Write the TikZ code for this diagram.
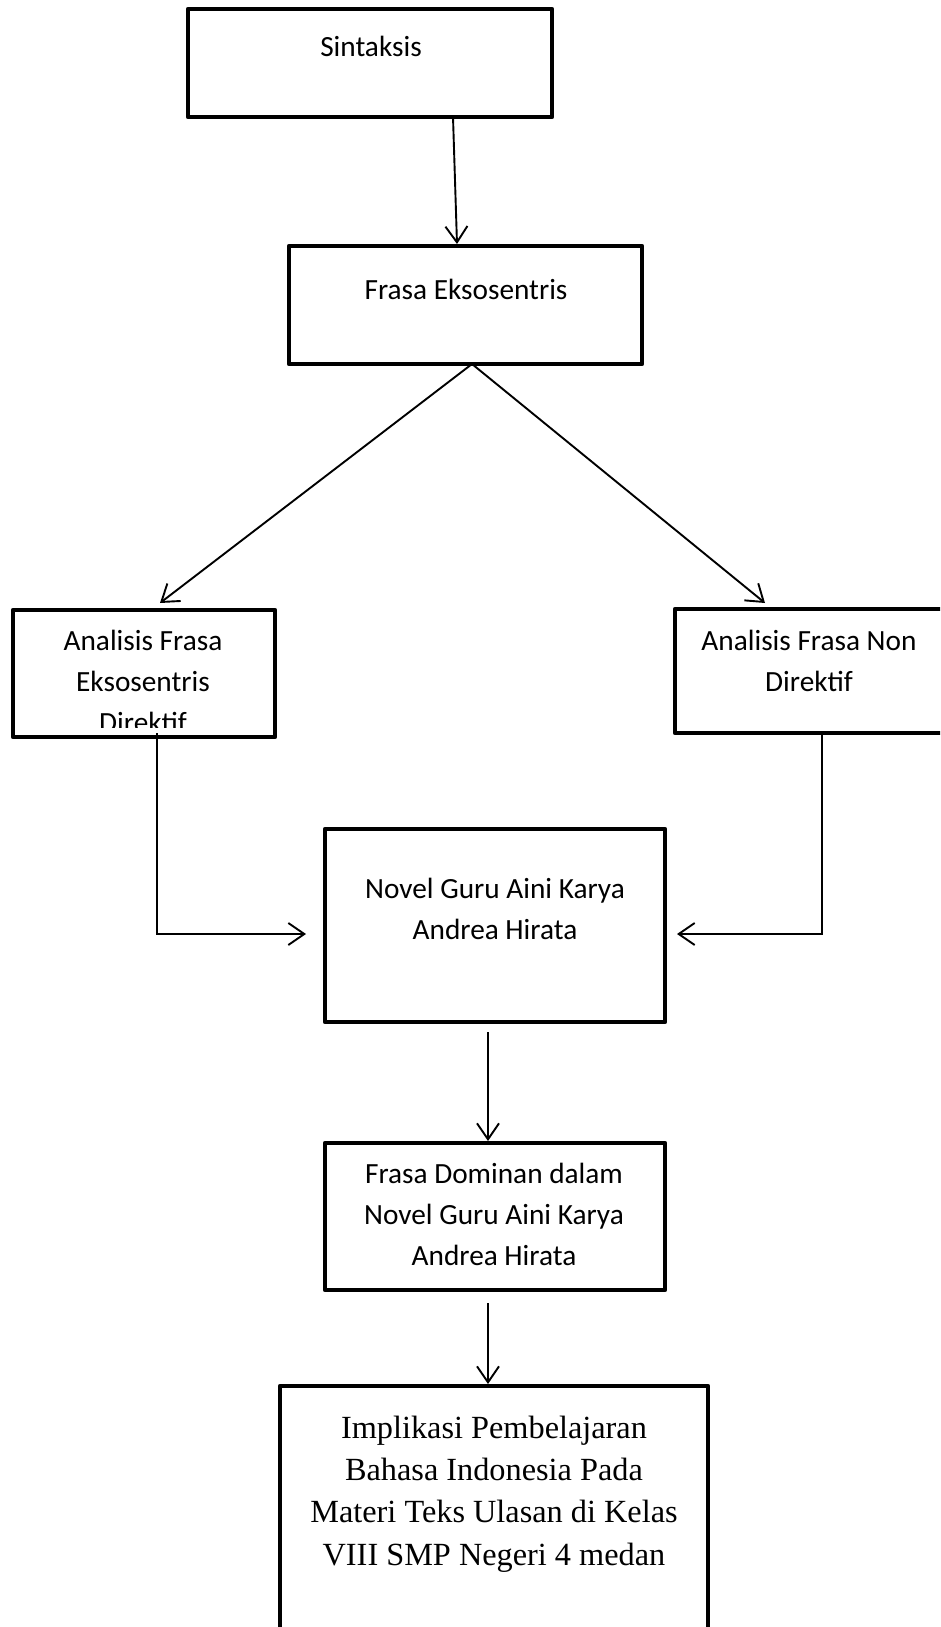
\documentclass[tikz,border=0pt]{standalone}
\usepackage{fontspec}
\setmainfont{Carlito}
\newfontfamily\timesf{Liberation Serif}
\usetikzlibrary{arrows.meta}
\begin{document}
\begin{tikzpicture}[x=1pt,y=-1pt,
  box/.style={draw=black, line width=4.8pt, line join=round, rectangle, inner sep=0pt, outer sep=0pt},
  conn/.style={draw=black, line width=1.9pt, -{Straight Barb[length=16pt,width=22pt]}},
  lbl/.style={anchor=base, inner sep=0pt, font=\fontsize{29.3}{41.3}\selectfont},
  lblt/.style={anchor=base, inner sep=0pt, font=\timesf\fontsize{32.3}{42.4}\selectfont}]
\useasboundingbox (0,0) rectangle (940,1627);
\fill[white] (0,0) rectangle (940,1627);
\clip (0,0) rectangle (940,1627);

% boxes
\node[box, minimum width=364pt, minimum height=108pt] (sin) at (370,63) {};
\node[box, minimum width=353pt, minimum height=118pt] (fe) at (465.5,305) {};
\node[box, minimum width=262pt, minimum height=127pt] (aed) at (144,673.5) {};
\node[box, minimum width=268pt, minimum height=124pt] (afn) at (809,671) {};
\node[box, minimum width=340pt, minimum height=193pt] (novel) at (495,925.5) {};
\node[box, minimum width=340pt, minimum height=147pt] (dom) at (495,1216.5) {};
\node[box, minimum width=428pt, minimum height=244pt] (impl) at (494,1508) {};

% texts
\node[lbl] (sinT) at (371,57) {Sintaksis};
\node[lbl] (feT) at (466,299) {Frasa Eksosentris};
\begin{scope}
\clip (13,610) rectangle (275,727);
\node[lbl] (aedT) at (143,650) {\begin{tabular}[t]{@{}c@{}}Analisis Frasa\\Eksosentris\\Direktif\end{tabular}};
\end{scope}
\node[lbl] (afnT) at (809,650) {\begin{tabular}[t]{@{}c@{}}Analisis Frasa Non\\Direktif\end{tabular}};
\node[lbl] (novelT) at (495,898) {\begin{tabular}[t]{@{}c@{}}Novel Guru Aini Karya\\Andrea Hirata\end{tabular}};
\node[lbl] (domT) at (494,1183) {\begin{tabular}[t]{@{}c@{}}Frasa Dominan dalam\\Novel Guru Aini Karya\\Andrea Hirata\end{tabular}};
\node[lblt] (implT) at (494,1438) {\begin{tabular}[t]{@{}c@{}}Implikasi Pembelajaran\\Bahasa Indonesia Pada\\Materi Teks Ulasan di Kelas\\VIII SMP Negeri 4 medan\end{tabular}};

% connectors
\draw[conn] ([xshift=83pt]sin.south) -- ([xshift=-8.5pt,yshift=2pt]fe.north);
\draw[conn] ([xshift=6.5pt]fe.south) -- ([xshift=16pt,yshift=7pt]aed.north);
\draw[conn] ([xshift=6.5pt]fe.south) -- ([xshift=-44pt,yshift=6pt]afn.north);
\draw[conn] ([xshift=13pt,yshift=4pt]aed.south) |- ([xshift=-19pt,yshift=-8.5pt]novel.west);
\draw[conn] ([xshift=13pt]afn.south) |- ([xshift=12pt,yshift=-8.5pt]novel.east);
\draw[conn] ([xshift=-7pt,yshift=-10pt]novel.south) -- ([xshift=-7pt,yshift=2pt]dom.north);
\draw[conn] ([xshift=-7pt,yshift=-13pt]dom.south) -- ([xshift=-6pt,yshift=2pt]impl.north);
\end{tikzpicture}
\end{document}
